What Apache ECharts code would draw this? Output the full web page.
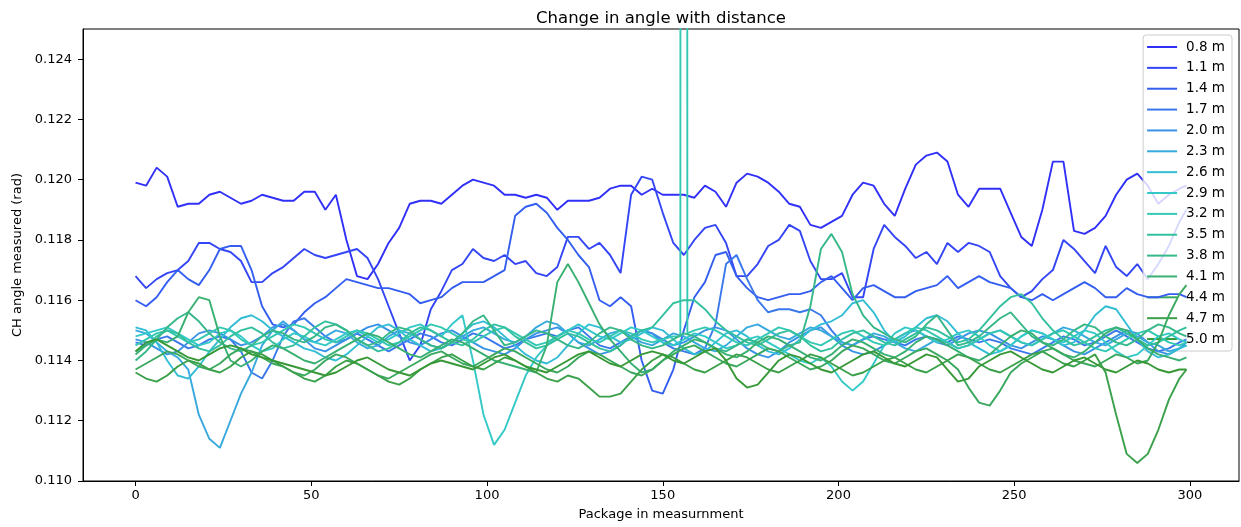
<!DOCTYPE html>
<html><head><meta charset="utf-8">
<script src="https://cdn.jsdelivr.net/npm/echarts@6/dist/echarts.min.js"></script>
<style>html,body{margin:0;padding:0;background:#fff}#c{width:1241px;height:527px}</style>
</head><body><div id="c"></div>
<script>
const xs=[0,3,6,9,12,15,18,21,24,27,30,33,36,39,42,45,48,51,54,57,60,63,66,69,72,75,78,81,84,87,90,93,96,99,102,105,108,111,114,117,120,123,126,129,132,135,138,141,144,147,150,153,156,159,162,165,168,171,174,177,180,183,186,189,192,195,198,201,204,207,210,213,216,219,222,225,228,231,234,237,240,243,246,249,252,255,258,261,264,267,270,273,276,279,282,285,288,291,294,297,299];
const labels=['0.8 m','1.1 m','1.4 m','1.7 m','2.0 m','2.3 m','2.6 m','2.9 m','3.2 m','3.5 m','3.8 m','4.1 m','4.4 m','4.7 m','5.0 m'];
const colors=['#3030f8','#3345f5','#335ef0','#3a78ec','#3a92e4','#37a9de','#33bdd5','#33c9c8','#33c8b2','#33c09e','#36b888','#38b072','#3aa85e','#3aa04a','#379836'];
const xTicks=[0,50,100,150,200,250,300];
const yTicks=[0.110,0.112,0.114,0.116,0.118,0.120,0.122,0.124];

const d08=[.1199,.1198,.1204,.1201,.1191,.1192,.1192,.1195,.1196,.1194,
.1192,.1193,.1195,.1194,.1193,.1193,.1196,.1196,.1190,.1195,
.1180,.1168,.1167,.1172,.1179,.1184,.1192,.1193,.1193,.1192,
.1195,.1198,.1200,.1199,.1198,.1195,.1195,.1194,.1195,.1194,
.1190,.1193,.1193,.1193,.1194,.1197,.1198,.1198,.1195,.1197,
.1195,.1195,.1195,.1194,.1198,.1196,.1191,.1199,.1202,.1201,
.1199,.1196,.1192,.1191,.1185,.1184,.1186,.1188,.1195,.1199,
.1198,.1192,.1188,.1197,.1205,.1208,.1209,.1206,.1195,.1191,
.1197,.1197,.1197,.1189,.1181,.1178,.1190,.1206,.1206,.1183,
.1182,.1184,.1188,.1195,.1200,.1202,.1198,.1192,.1195,.1197,
.1198];
const d11=[.1168,.1164,.1167,.1169,.1170,.1173,.1179,.1179,.1177,.1176,
.1173,.1166,.1166,.1169,.1171,.1174,.1177,.1175,.1174,.1175,
.1176,.1177,.1174,.1167,.1158,.1149,.1140,.1145,.1157,.1163,
.1170,.1172,.1177,.1174,.1173,.1175,.1172,.1173,.1169,.1168,
.1171,.1181,.1181,.1177,.1179,.1175,.1169,.1195,.1201,.1200,
.1189,.1179,.1175,.1180,.1184,.1185,.1179,.1168,.1168,.1172,
.1178,.1180,.1185,.1183,.1173,.1167,.1167,.1169,.1161,.1161,
.1177,.1185,.1181,.1178,.1174,.1176,.1172,.1179,.1176,.1179,
.1178,.1176,.1168,.1164,.1161,.1163,.1167,.1170,.1180,.1177,
.1173,.1169,.1178,.1171,.1168,.1172,.1167,.1172,.1178,.1186,
.1190];
const d14=[.1160,.1158,.1161,.1166,.1170,.1167,.1165,.1170,.1177,.1178,
.1178,.1170,.1158,.1152,.1151,.1152,.1156,.1159,.1161,.1164,
.1167,.1166,.1165,.1164,.1164,.1163,.1162,.1159,.1160,.1161,
.1164,.1166,.1166,.1166,.1168,.1170,.1188,.1191,.1192,.1189,
.1184,.1180,.1175,.1171,.1160,.1158,.1161,.1158,.1140,.1130,
.1129,.1137,.1150,.1161,.1166,.1175,.1176,.1168,.1164,.1161,
.1160,.1161,.1162,.1162,.1163,.1166,.1168,.1164,.1160,.1164,
.1165,.1163,.1161,.1161,.1163,.1164,.1165,.1168,.1164,.1166,
.1168,.1166,.1165,.1164,.1161,.1160,.1162,.1160,.1162,.1164,
.1166,.1164,.1161,.1161,.1164,.1162,.1161,.1161,.1162,.1162,
.1161];
const d17=[.1146,.1145,.1147,.1148,.1146,.1144,.1145,.1147,.1148,.1147,
.1143,.1136,.1134,.1140,.1148,.1153,.1154,.1151,.1148,.1146,
.1147,.1149,.1147,.1145,.1143,.1145,.1147,.1149,.1148,.1146,
.1145,.1147,.1149,.1148,.1146,.1144,.1145,.1147,.1148,.1149,
.1148,.1150,.1151,.1148,.1145,.1144,.1146,.1148,.1150,.1149,
.1146,.1144,.1143,.1142,.1144,.1152,.1172,.1175,.1167,.1160,
.1156,.1157,.1157,.1156,.1157,.1155,.1150,.1146,.1145,.1147,
.1148,.1147,.1146,.1145,.1147,.1148,.1147,.1146,.1148,.1147,
.1146,.1147,.1146,.1144,.1143,.1142,.1144,.1146,.1148,.1147,
.1145,.1146,.1148,.1150,.1148,.1146,.1144,.1143,.1144,.1146,
.1147];
const d20=[.1147,.1146,.1144,.1142,.1143,.1146,.1149,.1150,.1149,.1147,
.1145,.1146,.1148,.1151,.1152,.1150,.1147,.1144,.1143,.1145,
.1147,.1149,.1151,.1152,.1150,.1148,.1146,.1145,.1147,.1149,
.1150,.1148,.1146,.1144,.1143,.1142,.1144,.1147,.1149,.1150,
.1151,.1149,.1146,.1144,.1142,.1143,.1145,.1148,.1150,.1149,
.1147,.1145,.1146,.1148,.1150,.1151,.1150,.1147,.1144,.1142,
.1141,.1143,.1146,.1148,.1150,.1151,.1148,.1145,.1143,.1142,
.1143,.1145,.1147,.1149,.1150,.1148,.1146,.1145,.1147,.1149,
.1150,.1149,.1147,.1145,.1144,.1146,.1148,.1147,.1145,.1143,
.1142,.1144,.1146,.1148,.1150,.1149,.1146,.1143,.1142,.1144,
.1146];
const d23=[.1150,.1149,.1146,.1143,.1141,.1137,.1122,.1114,.1111,.1120,
.1129,.1136,.1145,.1150,.1153,.1150,.1147,.1146,.1148,.1150,
.1149,.1146,.1144,.1145,.1148,.1150,.1149,.1147,.1145,.1144,
.1146,.1148,.1150,.1151,.1149,.1147,.1146,.1148,.1151,.1153,
.1152,.1149,.1146,.1145,.1147,.1149,.1150,.1148,.1146,.1145,
.1147,.1149,.1148,.1146,.1144,.1143,.1145,.1148,.1151,.1152,
.1150,.1148,.1147,.1149,.1151,.1150,.1148,.1146,.1145,.1147,
.1149,.1148,.1146,.1144,.1143,.1145,.1147,.1146,.1144,.1145,
.1147,.1149,.1150,.1148,.1146,.1145,.1147,.1149,.1151,.1150,
.1148,.1146,.1145,.1147,.1149,.1148,.1146,.1145,.1143,.1144,
.1145];
const d26=[.1151,.1150,.1146,.1140,.1135,.1134,.1138,.1143,.1147,.1151,
.1154,.1155,.1153,.1150,.1148,.1146,.1144,.1143,.1141,.1140,
.1142,.1145,.1148,.1151,.1152,.1150,.1147,.1145,.1143,.1144,
.1146,.1149,.1152,.1153,.1151,.1148,.1145,.1142,.1140,.1139,
.1141,.1145,.1149,.1152,.1151,.1148,.1146,.1147,.1149,.1151,
.1150,.1147,.1144,.1142,.1143,.1146,.1149,.1150,.1148,.1145,
.1143,.1142,.1144,.1147,.1150,.1152,.1153,.1155,.1159,.1160,
.1156,.1150,.1146,.1148,.1151,.1154,.1155,.1153,.1149,.1146,
.1144,.1142,.1143,.1145,.1148,.1150,.1149,.1147,.1145,.1146,
.1150,.1155,.1158,.1157,.1152,.1147,.1143,.1141,.1142,.1144,
.1145];
const d29=[.1148,.1149,.1150,.1151,.1149,.1147,.1145,.1146,.1149,.1150,
.1148,.1145,.1143,.1144,.1147,.1149,.1148,.1146,.1145,.1147,
.1149,.1150,.1148,.1146,.1147,.1149,.1151,.1152,.1150,.1148,
.1152,.1155,.1140,.1122,.1112,.1117,.1126,.1135,.1141,.1145,
.1148,.1150,.1152,.1150,.1148,.1147,.1149,.1151,.1150,.1148,
.1146,.1145,.1147,.1149,.1148,.1146,.1144,.1145,.1147,.1148,
.1146,.1144,.1142,.1140,.1139,.1141,.1138,.1133,.1130,.1133,
.1139,.1145,.1149,.1151,.1150,.1148,.1146,.1147,.1149,.1150,
.1148,.1145,.1143,.1145,.1148,.1150,.1149,.1147,.1146,.1148,
.1150,.1149,.1146,.1143,.1141,.1142,.1145,.1148,.1149,.1147,
.1146];
const d32=[.1145,.1147,.1149,.1150,.1148,.1146,.1147,.1149,.1151,.1150,
.1147,.1145,.1146,.1148,.1150,.1152,.1151,.1149,.1147,.1146,
.1148,.1150,.1149,.1147,.1145,.1146,.1148,.1150,.1152,.1151,
.1149,.1147,.1146,.1148,.1150,.1151,.1149,.1147,.1145,.1146,
.1148,.1150,.1149,.1147,.1146,.1148,.1150,.1149,.1147,.1146,
.1147,.1148,0.5,.1150,.1151,.1150,.1148,.1146,.1145,.1147,
.1149,.1151,.1150,.1148,.1146,.1145,.1147,.1149,.1150,.1148,
.1146,.1145,.1147,.1149,.1151,.1150,.1148,.1146,.1144,.1145,
.1147,.1149,.1150,.1148,.1146,.1145,.1147,.1149,.1150,.1148,
.1146,.1144,.1143,.1145,.1147,.1149,.1150,.1148,.1146,.1145,
.1146];
const spikeX=[155,157];
const spikeY=[.1148,.1149];
const d35=[.1143,.1145,.1148,.1150,.1149,.1146,.1144,.1143,.1145,.1148,
.1150,.1151,.1149,.1146,.1144,.1145,.1148,.1151,.1153,.1152,
.1150,.1147,.1145,.1143,.1144,.1146,.1149,.1151,.1150,.1148,
.1146,.1145,.1147,.1150,.1152,.1151,.1148,.1146,.1144,.1145,
.1147,.1149,.1148,.1146,.1144,.1143,.1145,.1148,.1150,.1151,
.1155,.1159,.1160,.1160,.1157,.1153,.1150,.1148,.1146,.1145,
.1147,.1149,.1150,.1148,.1145,.1143,.1144,.1147,.1149,.1150,
.1148,.1146,.1145,.1147,.1149,.1151,.1150,.1148,.1146,.1147,
.1150,.1154,.1158,.1161,.1162,.1159,.1154,.1150,.1147,.1145,
.1146,.1148,.1150,.1151,.1149,.1147,.1145,.1146,.1148,.1150,
.1151];
const d38=[.1140,.1143,.1147,.1151,.1154,.1156,.1153,.1149,.1146,.1144,
.1143,.1145,.1148,.1150,.1149,.1147,.1146,.1148,.1151,.1152,
.1150,.1147,.1145,.1146,.1149,.1151,.1150,.1147,.1145,.1144,
.1146,.1149,.1153,.1155,.1150,.1145,.1146,.1148,.1150,.1149,
.1147,.1145,.1144,.1146,.1149,.1151,.1150,.1147,.1145,.1144,
.1145,.1147,.1149,.1148,.1146,.1144,.1143,.1145,.1147,.1146,
.1144,.1143,.1145,.1146,.1158,.1177,.1182,.1176,.1162,.1155,
.1151,.1149,.1147,.1146,.1148,.1152,.1155,.1150,.1145,.1146,
.1148,.1151,.1154,.1156,.1152,.1148,.1146,.1145,.1147,.1150,
.1152,.1151,.1148,.1146,.1145,.1147,.1150,.1152,.1151,.1149,
.1148];
const d41=[.1142,.1145,.1147,.1146,.1148,.1156,.1161,.1160,.1148,.1140,
.1138,.1140,.1143,.1145,.1144,.1142,.1140,.1139,.1141,.1143,
.1145,.1147,.1149,.1148,.1146,.1144,.1142,.1141,.1143,.1145,
.1147,.1146,.1144,.1142,.1140,.1139,.1138,.1137,.1136,.1145,
.1166,.1172,.1166,.1159,.1152,.1147,.1143,.1139,.1136,.1137,
.1140,.1143,.1145,.1147,.1146,.1144,.1142,.1141,.1143,.1146,
.1148,.1147,.1145,.1143,.1141,.1140,.1142,.1145,.1147,.1146,
.1144,.1142,.1141,.1143,.1146,.1148,.1147,.1145,.1143,.1141,
.1140,.1142,.1145,.1148,.1150,.1149,.1146,.1144,.1142,.1141,
.1143,.1146,.1149,.1151,.1150,.1147,.1144,.1142,.1141,.1140,
.1141];
const d44=[.1137,.1139,.1141,.1143,.1142,.1140,.1138,.1137,.1139,.1142,
.1144,.1143,.1141,.1139,.1138,.1136,.1135,.1137,.1140,.1142,
.1141,.1139,.1137,.1135,.1134,.1136,.1138,.1140,.1142,.1143,
.1141,.1139,.1138,.1140,.1142,.1144,.1143,.1141,.1139,.1137,
.1136,.1138,.1141,.1143,.1142,.1140,.1138,.1136,.1135,.1137,
.1140,.1142,.1144,.1145,.1143,.1141,.1139,.1138,.1140,.1142,
.1144,.1143,.1141,.1139,.1137,.1138,.1140,.1143,.1145,.1144,
.1142,.1140,.1139,.1141,.1143,.1144,.1142,.1140,.1137,.1131,
.1126,.1125,.1130,.1136,.1139,.1141,.1143,.1144,.1142,.1140,
.1139,.1138,.1140,.1142,.1141,.1139,.1140,.1146,.1155,.1162,
.1165];
const d47=[.1136,.1134,.1133,.1135,.1138,.1140,.1139,.1137,.1136,.1138,
.1141,.1143,.1142,.1140,.1138,.1136,.1134,.1133,.1135,.1138,
.1140,.1139,.1137,.1135,.1133,.1132,.1134,.1137,.1139,.1141,
.1142,.1140,.1138,.1137,.1139,.1141,.1140,.1138,.1136,.1134,
.1133,.1135,.1134,.1131,.1128,.1128,.1129,.1133,.1137,.1140,
.1142,.1141,.1139,.1137,.1136,.1138,.1140,.1142,.1141,.1139,
.1137,.1136,.1138,.1140,.1142,.1141,.1139,.1137,.1135,.1136,
.1138,.1140,.1141,.1139,.1137,.1136,.1138,.1140,.1142,.1141,
.1139,.1137,.1136,.1138,.1140,.1142,.1143,.1141,.1139,.1138,
.1140,.1142,.1136,.1122,.1109,.1106,.1109,.1117,.1127,.1134,
.1137];
const d50=[.1143,.1146,.1147,.1145,.1143,.1141,.1140,.1142,.1144,.1145,
.1144,.1142,.1141,.1140,.1139,.1138,.1137,.1136,.1135,.1136,
.1138,.1140,.1141,.1139,.1137,.1136,.1135,.1137,.1139,.1140,
.1139,.1138,.1137,.1139,.1141,.1142,.1140,.1138,.1137,.1136,
.1138,.1140,.1142,.1143,.1141,.1139,.1138,.1140,.1142,.1143,
.1142,.1140,.1139,.1141,.1143,.1144,.1140,.1134,.1131,.1132,
.1136,.1140,.1142,.1141,.1139,.1137,.1136,.1138,.1140,.1142,
.1143,.1141,.1139,.1138,.1140,.1142,.1141,.1137,.1133,.1134,
.1138,.1140,.1142,.1143,.1141,.1139,.1137,.1136,.1138,.1140,
.1141,.1139,.1137,.1136,.1138,.1140,.1139,.1137,.1136,.1137,
.1137];

const values=[d08,d11,d14,d17,d20,d23,d26,d29,d32,d35,d38,d41,d44,d47,d50];
const FONT='DejaVu Sans';

function pairs(vals){return xs.map((x,i)=>[x,vals[i]]);}

const series=values.map((vals,k)=>{
  let data=pairs(vals);
  if(labels[k]==='3.2 m'){
    spikeX.forEach((x,i)=>data.push([x,spikeY[i]]));
    data.sort((a,b)=>a[0]-b[0]);
  }
  return {name:labels[k],type:'line',data:data,showSymbol:false,symbol:'none',
    lineStyle:{color:colors[k],width:1.9},itemStyle:{color:colors[k]},
    clip:true,animation:false,z:2+k};
});

const chart=echarts.init(document.getElementById('c'),null,{renderer:'canvas'});
chart.setOption({
  animation:false,
  backgroundColor:'#fff',
  title:{text:'Change in angle with distance',left:656,textAlign:'center',top:5,
    textStyle:{fontFamily:FONT,fontSize:16.5,fontWeight:'normal',color:'#000'}},
  grid:{left:83,right:2,top:29,bottom:46,show:true,borderColor:'#000',borderWidth:1,containLabel:false},
  xAxis:{type:'value',min:-14.95,max:313.95,
    axisLine:{show:true,onZero:false,lineStyle:{color:'#000',width:1}},
    axisTick:{show:true,length:5,customValues:xTicks,lineStyle:{color:'#000'}},
    axisLabel:{customValues:xTicks,fontFamily:FONT,fontSize:13,color:'#000',margin:8},
    splitLine:{show:false},
    name:'Package in measurnment',nameLocation:'middle',nameGap:27,
    nameTextStyle:{fontFamily:FONT,fontSize:13,color:'#000'}},
  yAxis:{type:'value',min:0.110,max:0.125,
    axisLine:{show:true,onZero:false,lineStyle:{color:'#000',width:1}},
    axisTick:{show:true,length:5,customValues:yTicks,lineStyle:{color:'#000'}},
    axisLabel:{customValues:yTicks,fontFamily:FONT,fontSize:13,color:'#000',margin:11,
      formatter:v=>Number(v).toFixed(3)},
    splitLine:{show:false},
    name:'CH angle measured (rad)',nameLocation:'middle',nameGap:58,
    nameTextStyle:{fontFamily:FONT,fontSize:13,color:'#000'}},
  legend:{orient:'vertical',right:9,top:35,data:labels,icon:'rect',itemWidth:30,itemHeight:2,itemGap:6.86,
    backgroundColor:'rgba(255,255,255,0.8)',borderColor:'#ccc',borderWidth:1,borderRadius:3,
    padding:[5,7,5,4],
    textStyle:{fontFamily:FONT,fontSize:13.5,color:'#000',lineHeight:14,padding:[0,0,0,4]}},
  series:series
});
</script>
</body></html>
